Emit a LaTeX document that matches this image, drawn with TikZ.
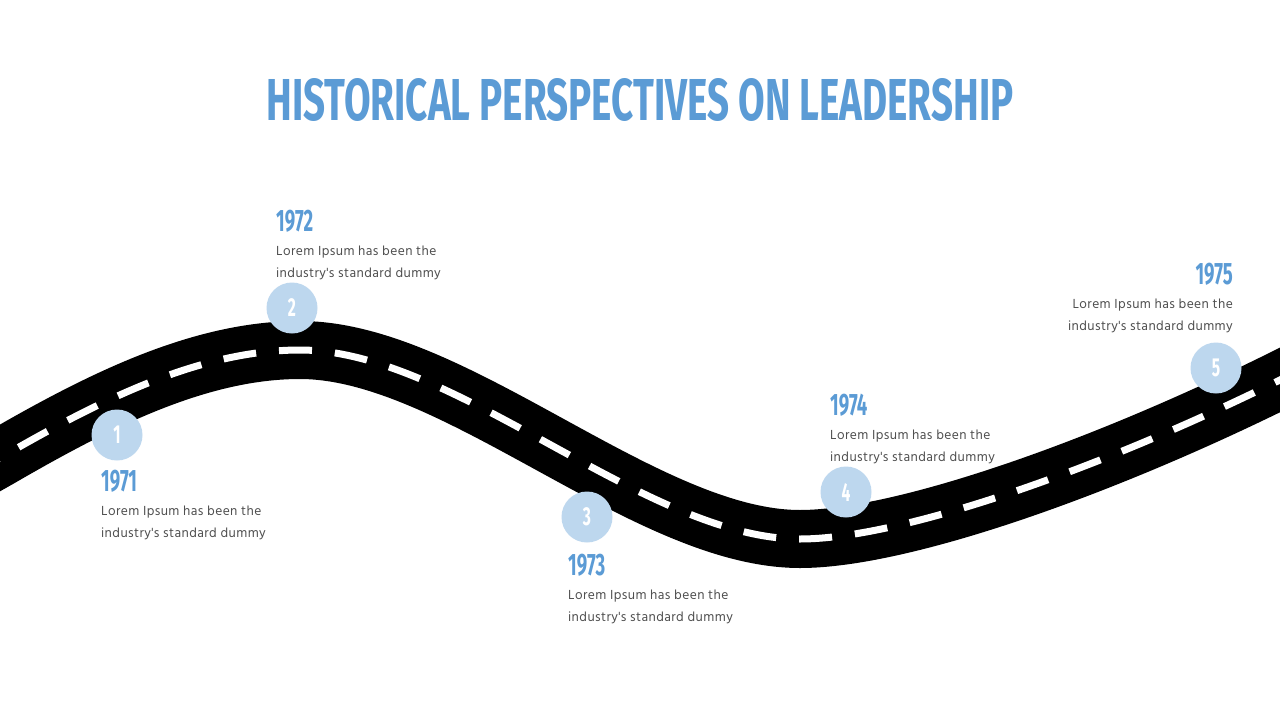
\documentclass[tikz,border=0pt]{standalone}
\usepackage{fontspec}
\usepackage{graphicx}
\newfontfamily\condf{Fira Sans}[FakeStretch=0.55]
\newfontfamily\yearf{Fira Sans}[FakeStretch=0.6]
\newfontfamily\bodyf{Hind Madurai}[LetterSpace=3]
\definecolor{titleblue}{HTML}{5B9BD5}
\definecolor{dotblue}{HTML}{BDD7EE}
\definecolor{bodygray}{HTML}{505050}
\tikzset{
  yearlbl/.style={font=\yearf\bfseries\fontsize{31}{31}\selectfont, text=titleblue, inner sep=0pt},
  bodylbl/.style={font=\bodyf\fontsize{13.5}{22}\selectfont, text=bodygray, inner sep=0pt},
  dot/.style={circle, fill=dotblue, minimum size=51pt, inner sep=0pt, text=white,
    font=\yearf\bfseries\fontsize{26}{26}\selectfont},
  road/.style={line width=58pt, draw=black},
  lane/.style={line width=7pt, draw=white, dash pattern=on 33pt off 23pt},
}
\begin{document}
\begin{tikzpicture}[x=1pt,y=-1pt]
\useasboundingbox[fill=white] (0,0) rectangle (1280,720);
\begin{scope}
\clip (0,0) rectangle (1280,720);
\path (-30,475) coordinate (rs) (1320,360) coordinate (re);
\draw[road] (rs) -- (0,458) .. controls (100,400) and (200,350) .. (300,350)
  .. controls (455,350) and (645,539) .. (800,539)
  .. controls (900,539) and (1100,470) .. (1290,375) -- (re);
\draw[lane] (rs) -- (0,458) .. controls (100,400) and (200,350) .. (300,350)
  .. controls (455,350) and (645,539) .. (800,539)
  .. controls (900,539) and (1100,470) .. (1290,375) -- (re);
\end{scope}
% title
\node[anchor=south, inner sep=0pt, text=titleblue] (title) at (640,122)
  {\resizebox{747pt}{42pt}{\condf\bfseries HISTORICAL PERSPECTIVES ON LEADERSHIP}};
% milestones
\node[dot] (d1) at (117,435) {1};
\node[dot] (d2) at (292,308) {2};
\node[dot] (d3) at (587,517) {3};
\node[dot] (d4) at (846,492) {4};
\node[dot] (d5) at (1216,368) {5};
% years
\node[yearlbl, anchor=base west] (y1) at (101,491) {1971};
\node[yearlbl, anchor=base west] (y2) at (276,231) {1972};
\node[yearlbl, anchor=base west] (y3) at (568,575) {1973};
\node[yearlbl, anchor=base west] (y4) at (830,415) {1974};
\node[yearlbl, anchor=base east] (y5) at (1233,284) {1975};
% descriptions (base anchor = baseline of the last line)
\node[bodylbl, anchor=base west, align=left] (t1) at (101,537) {Lorem Ipsum has been the\\industry's standard dummy};
\node[bodylbl, anchor=base west, align=left] (t2) at (276,277) {Lorem Ipsum has been the\\industry's standard dummy};
\node[bodylbl, anchor=base west, align=left] (t3) at (568,621) {Lorem Ipsum has been the\\industry's standard dummy};
\node[bodylbl, anchor=base west, align=left] (t4) at (830,461) {Lorem Ipsum has been the\\industry's standard dummy};
\node[bodylbl, anchor=base east, align=right] (t5) at (1233,330) {Lorem Ipsum has been the\\industry's standard dummy};
\end{tikzpicture}
\end{document}
